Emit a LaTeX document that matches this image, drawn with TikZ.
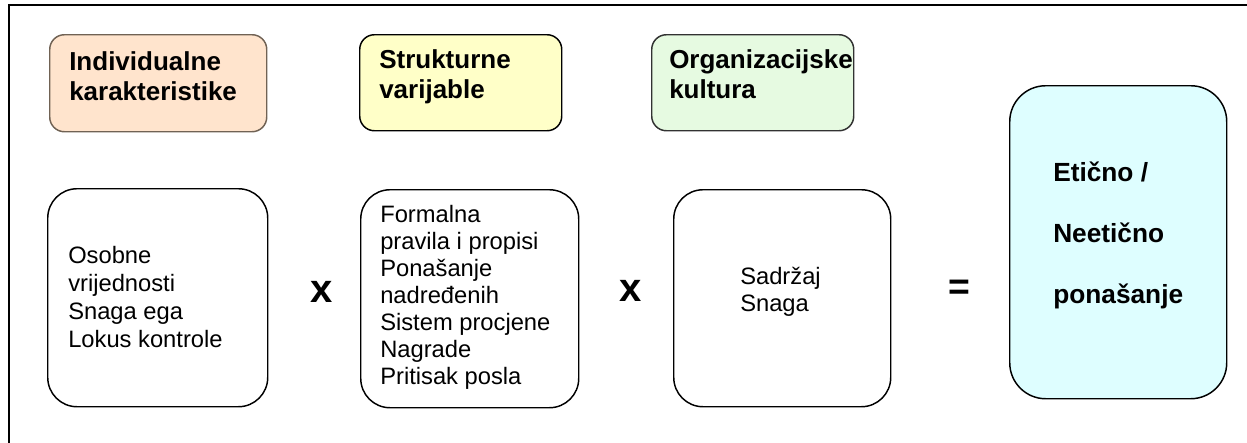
\documentclass[tikz,border=0pt]{standalone}
\usepackage{fontspec}
\setmainfont{Liberation Sans}
\definecolor{peach}{RGB}{255,228,205}
\definecolor{peachline}{RGB}{112,98,84}
\definecolor{lightyellow}{RGB}{255,255,200}
\definecolor{lightgreen}{RGB}{230,250,225}
\definecolor{lightcyan}{RGB}{222,254,255}
\definecolor{darkline}{RGB}{50,50,50}
\newcommand{\txtlines}[2]{\vtop{\baselineskip=#1\lineskiplimit=-10pt #2}}
\tikzset{
  headbox/.style={rectangle, rounded corners=11pt, line width=1.1pt, anchor=north west, inner sep=0pt},
  itembox/.style={rectangle, rounded corners=22pt, line width=1.1pt, draw=black, fill=white, anchor=north west, inner sep=0pt},
  resbox/.style={rectangle, rounded corners=27pt, line width=1.1pt, draw=black, fill=lightcyan, anchor=north west, inner sep=0pt},
  headtxt/.style={anchor=base west, inner sep=0pt, font=\fontsize{19.5pt}{22.5pt}\selectfont\bfseries},
  itemtxt/.style={anchor=base west, inner sep=0pt, font=\fontsize{17.8pt}{21pt}\selectfont},
  optxt/.style={anchor=base, inner sep=0pt, font=\fontsize{30pt}{34pt}\selectfont\bfseries}
}
\begin{document}
\begin{tikzpicture}[x=0.75pt,y=-0.75pt]
\useasboundingbox (0,0) rectangle (1247,443);
% frame
\draw[line width=1.6pt] (1247,5) -- (9,5) -- (9,443);
% header boxes
\node[headbox, draw=peachline, fill=peach, minimum width=162.75pt, minimum height=72.75pt] (ind) at (49,34) {};
\node[headbox, draw=black, fill=lightyellow, minimum width=151.5pt, minimum height=72pt] (str) at (359,34) {};
\node[headbox, draw=darkline, fill=lightgreen, minimum width=151.5pt, minimum height=72pt] (org) at (651,34) {};
\node[headtxt] (indt) at (69,70) {\txtlines{22.5pt}{\hbox{Individualne}\hbox{karakteristike}}};
\node[headtxt] (strt) at (379,68) {\txtlines{22.5pt}{\hbox{Strukturne}\hbox{varijable}}};
\node[headtxt] (orgt) at (669,68) {\txtlines{22.5pt}{\hbox{Organizacijske}\hbox{kultura}}};
% item boxes
\node[itembox, minimum width=165pt, minimum height=163.5pt] (b1) at (47,188) {};
\node[itembox, minimum width=163.5pt, minimum height=163.5pt] (b2) at (360,189) {};
\node[itembox, minimum width=162.75pt, minimum height=162.75pt] (b3) at (673,189) {};
\node[itemtxt] (b1t) at (68,263) {\txtlines{21.2pt}{\hbox{Osobne}\hbox{vrijednosti}\hbox{Snaga ega}\hbox{Lokus kontrole}}};
\node[itemtxt] (b2t) at (380,222) {\txtlines{20.25pt}{\hbox{Formalna}\hbox{pravila i propisi}\hbox{Ponašanje}\hbox{nadređenih}\hbox{Sistem procjene}\hbox{Nagrade}\hbox{Pritisak posla}}};
\node[itemtxt] (b3t) at (740,284) {\txtlines{20.25pt}{\hbox{Sadržaj}\hbox{Snaga}}};
% operators
\node[optxt] (op1) at (322,302) {x};
\node[optxt] (op2) at (631,301) {x};
\node[optxt, font=\fontsize{28pt}{32pt}\selectfont\bfseries] (op3) at (959,299) {=};
% result box
\node[resbox, minimum width=162.75pt, minimum height=234.75pt] (res) at (1009,85) {};
\node[headtxt, font=\fontsize{19.7pt}{22.5pt}\selectfont\bfseries] (rest) at (1053,181) {\txtlines{45.75pt}{\hbox{Etično /}\hbox{Neetično}\hbox{ponašanje}}};
\end{tikzpicture}
\end{document}
